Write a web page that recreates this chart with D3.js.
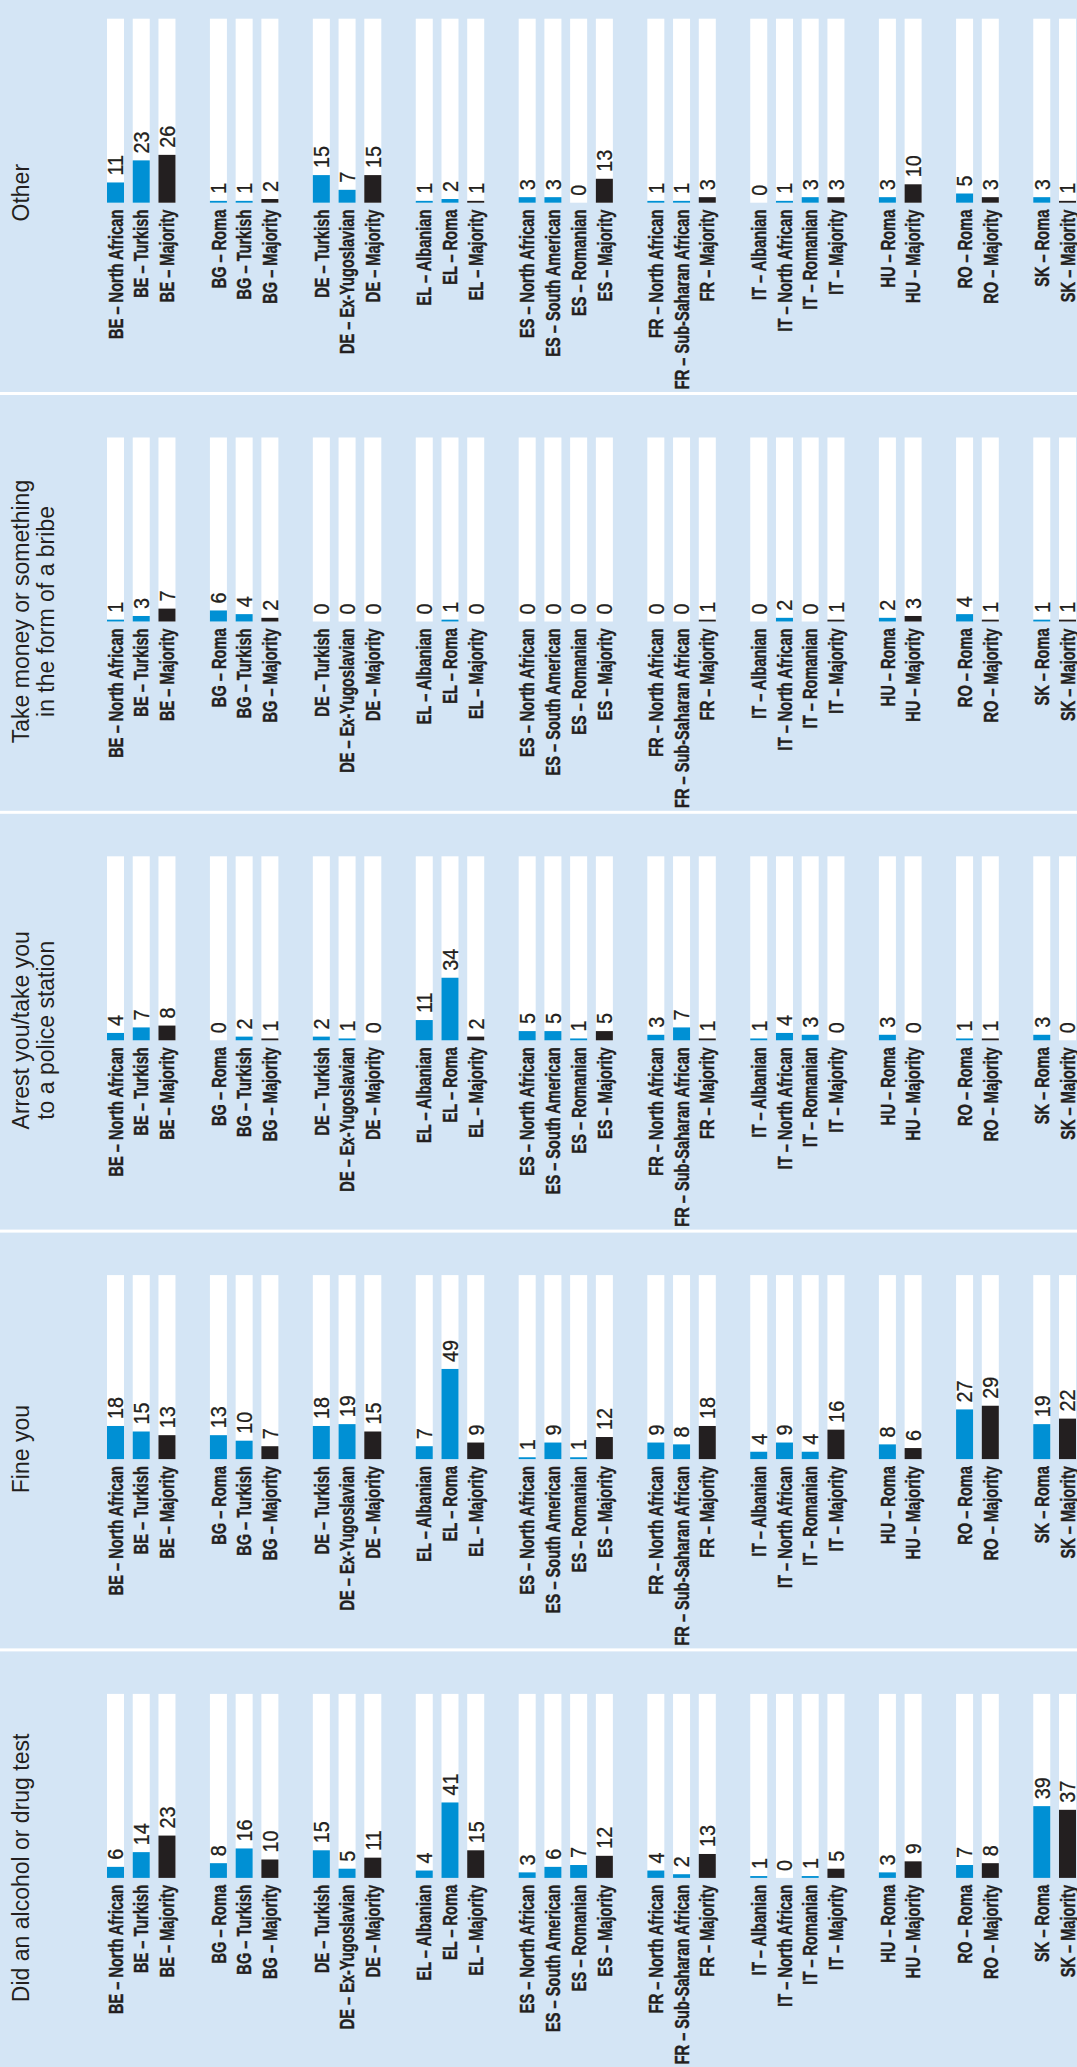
<!DOCTYPE html>
<html lang="en">
<head>
  <meta charset="UTF-8">
  <title>Police stop outcomes by group</title>
  <script src="https://d3js.org/d3.v7.min.js"></script>
  <style>
    body {
      margin: 0;
      background-color: #d4e5f5;
    }
    svg {
      display: block;
      font-family: "Liberation Sans", Arial, sans-serif;
    }
  </style>
</head>
<body>
  <div id="chart"></div>

  <script>
    // category labels (country – group), in drawing order
    const categories = [
      "BE – North African", "BE – Turkish", "BE – Majority",
      "BG – Roma", "BG – Turkish", "BG – Majority",
      "DE – Turkish", "DE – Ex-Yugoslavian", "DE – Majority",
      "EL – Albanian", "EL – Roma", "EL – Majority",
      "ES – North African", "ES – South American", "ES – Romanian", "ES – Majority",
      "FR – North African", "FR – Sub-Saharan African", "FR – Majority",
      "IT – Albanian", "IT – North African", "IT – Romanian", "IT – Majority",
      "HU – Roma", "HU – Majority",
      "RO – Roma", "RO – Majority",
      "SK – Roma", "SK – Majority"
    ];

    // percentages per panel
    const other =       [11, 23, 26,  1,  1,  2, 15,  7, 15,  1,  2,  1,  3,  3,  0, 13,  1,  1,  3,  0,  1,  3,  3,  3, 10,  5,  3,  3,  1];
    const bribe =       [ 1,  3,  7,  6,  4,  2,  0,  0,  0,  0,  1,  0,  0,  0,  0,  0,  0,  0,  1,  0,  2,  0,  1,  2,  3,  4,  1,  1,  1];
    const arrest =      [ 4,  7,  8,  0,  2,  1,  2,  1,  0, 11, 34,  2,  5,  5,  1,  5,  3,  7,  1,  1,  4,  3,  0,  3,  0,  1,  1,  3,  0];
    const fine =        [18, 15, 13, 13, 10,  7, 18, 19, 15,  7, 49,  9,  1,  9,  1, 12,  9,  8, 18,  4,  9,  4, 16,  8,  6, 27, 29, 19, 22];
    const alcoholTest = [ 6, 14, 23,  8, 16, 10, 15,  5, 11,  4, 41, 15,  3,  6,  7, 12,  4,  2, 13,  1,  0,  1,  5,  3,  9,  7,  8, 39, 37];

    const panelTitles = [
      ["Other"],
      ["Take money or something", "in the form of a bribe"],
      ["Arrest you/take you", "to a police station"],
      ["Fine you"],
      ["Did an alcohol or drug test"]
    ];
    const panelValues = [other, bribe, arrest, fine, alcoholTest];

    const width = 1077, height = 2067;
    const panelStep = 418.8;
    const firstSep = 393.5 - panelStep;   // top panel is cut off above the image
    const trackLen = 184;

    const svg = d3.select("#chart")
      .append("svg")
      .attr("width", width)
      .attr("height", height);

    svg.append("rect")
      .attr("width", width)
      .attr("height", height)
      .attr("fill", "#d4e5f5");

    // slots: one per bar, plus an empty slot between countries
    const slots = [];
    categories.forEach((c, i) => {
      if (i > 0 && c.slice(0, 2) !== categories[i - 1].slice(0, 2)) slots.push("gap" + i);
      slots.push(c);
    });

    const x = d3.scaleBand()
      .domain(slots)
      .range([107, 1076])
      .paddingInner(0.339)
      .paddingOuter(0);

    const isMajority = c => c.endsWith("Majority");

    panelValues.forEach((values, p) => {
      const sep = firstSep + p * panelStep;
      const base = sep + 228;
      const y = d3.scaleLinear().domain([0, 100]).range([base, base - trackLen]);

      const g = svg.append("g");

      if (p > 0) {
        g.append("rect")
          .attr("x", 0)
          .attr("y", sep - 1.5)
          .attr("width", width)
          .attr("height", 3)
          .attr("fill", "#ffffff");
      }

      // title, rotated
      const titleY = sep + 218;
      panelTitles[p].forEach((line, li) => {
        g.append("text")
          .attr("transform", `translate(${28.5 + li * 25},${titleY}) rotate(-90)`)
          .attr("text-anchor", "middle")
          .attr("font-size", 23)
          .attr("fill", "#231f20")
          .text(line);
      });

      const rows = categories.map((c, i) => ({ cat: c, value: values[i] }));

      // white 100% tracks
      g.selectAll(".track")
        .data(rows)
        .enter()
        .append("rect")
        .attr("x", d => x(d.cat))
        .attr("y", y(100))
        .attr("width", x.bandwidth())
        .attr("height", y(0) - y(100))
        .attr("fill", "#ffffff");

      g.selectAll(".bar")
        .data(rows)
        .enter()
        .append("rect")
        .attr("x", d => x(d.cat))
        .attr("y", d => y(d.value))
        .attr("width", x.bandwidth())
        .attr("height", d => y(0) - y(d.value))
        .attr("fill", d => isMajority(d.cat) ? "#231f20" : "#0090d4");

      // values above bars
      g.selectAll(".val")
        .data(rows)
        .enter()
        .append("text")
        .attr("transform", d => `translate(${x(d.cat) + x.bandwidth() / 2 + 7.8},${y(d.value) - 7}) rotate(-90) scale(0.9,1)`)
        .attr("text-anchor", "start")
        .attr("font-size", 22)
        .attr("fill", "#231f20")
        .attr("stroke", "#231f20")
        .attr("stroke-width", 0.3)
        .text(d => d.value);

      // category labels below the baseline
      g.selectAll(".lab")
        .data(rows)
        .enter()
        .append("text")
        .attr("transform", d => `translate(${x(d.cat) + x.bandwidth() / 2 + 7.2},${base + 7}) rotate(-90) scale(0.73,1)`)
        .attr("text-anchor", "end")
        .attr("font-size", 20)
        .attr("font-weight", "bold")
        .attr("fill", "#231f20")
        .attr("stroke", "#231f20")
        .attr("stroke-width", 0.4)
        .text(d => d.cat);
    });
  </script>
</body>
</html>
